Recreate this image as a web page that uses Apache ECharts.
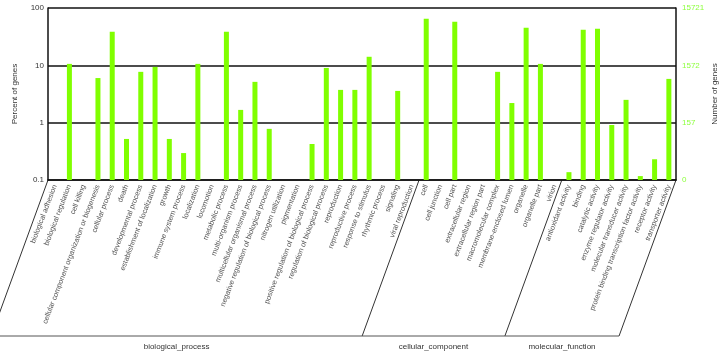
<!DOCTYPE html>
<html>
<head>
<meta charset="utf-8">
<script src="https://cdn.jsdelivr.net/npm/echarts@6/dist/echarts.min.js"></script>
<style>
  html, body { margin: 0; padding: 0; background: #fff; }
  #chart { width: 719px; height: 353px; }
</style>
</head>
<body>
<div id="chart"></div>
<script>
// GO terms, in plotting order
const categories = [
  'biological adhesion', 'biological regulation', 'cell killing',
  'cellular component organization or biogenesis', 'cellular process', 'death',
  'developmental process', 'establishment of localization', 'growth',
  'immune system process', 'localization', 'locomotion', 'metabolic process',
  'multi-organism process', 'multicellular organismal process',
  'negative regulation of biological process', 'nitrogen utilization', 'pigmentation',
  'positive regulation of biological process', 'regulation of biological process',
  'reproduction', 'reproductive process', 'response to stimulus', 'rhythmic process',
  'signaling', 'viral reproduction',
  'cell', 'cell junction', 'cell part', 'extracellular region',
  'extracellular region part', 'macromolecular complex', 'membrane-enclosed lumen',
  'organelle', 'organelle part', 'virion',
  'antioxidant activity', 'binding', 'catalytic activity', 'enzyme regulator activity',
  'molecular transducer activity', 'protein binding transcription factor activity',
  'receptor activity', 'transporter activity'
];

// percent of genes (null = nothing drawn)
const percentValues = [
  null, 10.6, null, 6.0, 38.5, 0.52, 7.7, 9.4, 0.52, 0.295, 10.6, null, 38.5,
  1.67, 5.15, 0.78, null, null, 0.425, 9.0, 3.73, 3.73, 14.1, null, 3.58, null,
  65, null, 57.5, null, null, 7.7, 2.2, 45.3, 10.6, null,
  0.137, 41.8, 43.5, 0.91, 2.5, 0.117, 0.23, 5.8
];

// GO top-level groups and how many terms each spans
const groupNames = ['biological_process', 'cellular_component', 'molecular_function'];
const groupSizes = [26, 10, 8];

// right axis tick labels (number of genes) for 0.1, 1, 10, 100 percent
const leftTicks = [0.1, 1, 10, 100];
const rightTickLabels = ['0', '157', '1572', '15721'];

const AXIS_MIN = 0.1;
const font = "'Liberation Sans', Arial, sans-serif";
const chart = echarts.init(document.getElementById('chart'));

// log axis bars: draw each bar from the axis floor (0.1) up to its value
const barData = [];
percentValues.forEach((v, i) => { if (v != null) barData.push([i, v]); });

function renderBar(params, api) {
  const idx = api.value(0);
  const top = api.coord([idx, api.value(1)]);
  const base = api.coord([idx, AXIS_MIN]);
  const w = 5;
  return {
    type: 'rect',
    shape: { x: top[0] - w / 2, y: top[1], width: w, height: base[1] - top[1] },
    style: { fill: '#80ff00' }
  };
}

const option = {
  animation: false,
  grid: { left: 48, right: 43, top: 8, bottom: 173, outerBoundsMode: 'none', containLabel: false },
  xAxis: {
    type: 'category',
    data: categories,
    boundaryGap: true,
    axisLine: { lineStyle: { color: '#111', width: 1.5 } },
    axisTick: { show: false },
    axisLabel: {
      interval: 0,
      rotate: 69,
      fontSize: 7.3,
      color: '#555',
      fontFamily: font,
      margin: 5
    }
  },
  yAxis: [
    {
      type: 'log',
      logBase: 10,
      min: AXIS_MIN,
      max: 100,
      name: 'Percent of genes',
      nameLocation: 'middle',
      nameRotate: 90,
      nameGap: 29,
      nameMoveOverlap: false,
      nameTextStyle: { fontSize: 8, color: '#333', fontFamily: font },
      axisLine: { show: true, lineStyle: { color: '#111', width: 1.5 } },
      axisTick: { show: false },
      axisLabel: {
        fontSize: 8, color: '#333', fontFamily: font, margin: 4,
        formatter: v => String(Number(v.toPrecision(3)))
      },
      splitLine: { show: true, lineStyle: { color: '#111', width: 1.5 } }
    },
    {
      type: 'log',
      logBase: 10,
      min: AXIS_MIN,
      max: 100,
      position: 'right',
      name: 'Number of genes',
      nameLocation: 'middle',
      nameRotate: 90,
      nameGap: 35,
      nameMoveOverlap: false,
      nameTextStyle: { fontSize: 8, color: '#333', fontFamily: font },
      axisLine: { show: true, lineStyle: { color: '#111', width: 1.5 } },
      axisTick: { show: false },
      axisLabel: {
        fontSize: 8, color: '#8cff3c', fontFamily: font, margin: 6,
        formatter: v => {
          const i = leftTicks.findIndex(t => Math.abs(t - v) < t * 1e-6);
          return i >= 0 ? rightTickLabels[i] : '';
        }
      },
      splitLine: { show: false }
    }
  ],
  series: [{
    type: 'custom',
    renderItem: renderBar,
    encode: { x: 0, y: 1 },
    data: barData
  }]
};

chart.setOption(option);

// slanted group brackets under the category labels
const p0 = chart.convertToPixel({ xAxisIndex: 0 }, categories[0]);
const p1 = chart.convertToPixel({ xAxisIndex: 0 }, categories[1]);
const band = p1 - p0;
const yTop = chart.convertToPixel({ yAxisIndex: 0 }, AXIS_MIN);
const yBottom = 336;
const shift = (yBottom - yTop) * 0.365;

const edges = [0];
groupSizes.forEach(n => edges.push(edges[edges.length - 1] + n));
const edgeX = edges.map(i => p0 - band / 2 + band * i);

const graphics = edgeX.map(x => ({
  type: 'line',
  shape: { x1: x, y1: yTop, x2: x - shift, y2: yBottom },
  style: { stroke: '#333', lineWidth: 1 }
}));
graphics.push({
  type: 'line',
  shape: { x1: edgeX[0] - shift, y1: yBottom, x2: edgeX[edgeX.length - 1] - shift, y2: yBottom },
  style: { stroke: '#555', lineWidth: 1 }
});
groupNames.forEach((name, g) => {
  const cx = (edgeX[g] + edgeX[g + 1]) / 2 - shift;
  graphics.push({
    type: 'text',
    x: cx,
    y: 347,
    style: {
      text: name, fill: '#333', font: '8px ' + font,
      textAlign: 'center', textVerticalAlign: 'middle'
    }
  });
});
chart.setOption({ graphic: graphics });
</script>
</body>
</html>
